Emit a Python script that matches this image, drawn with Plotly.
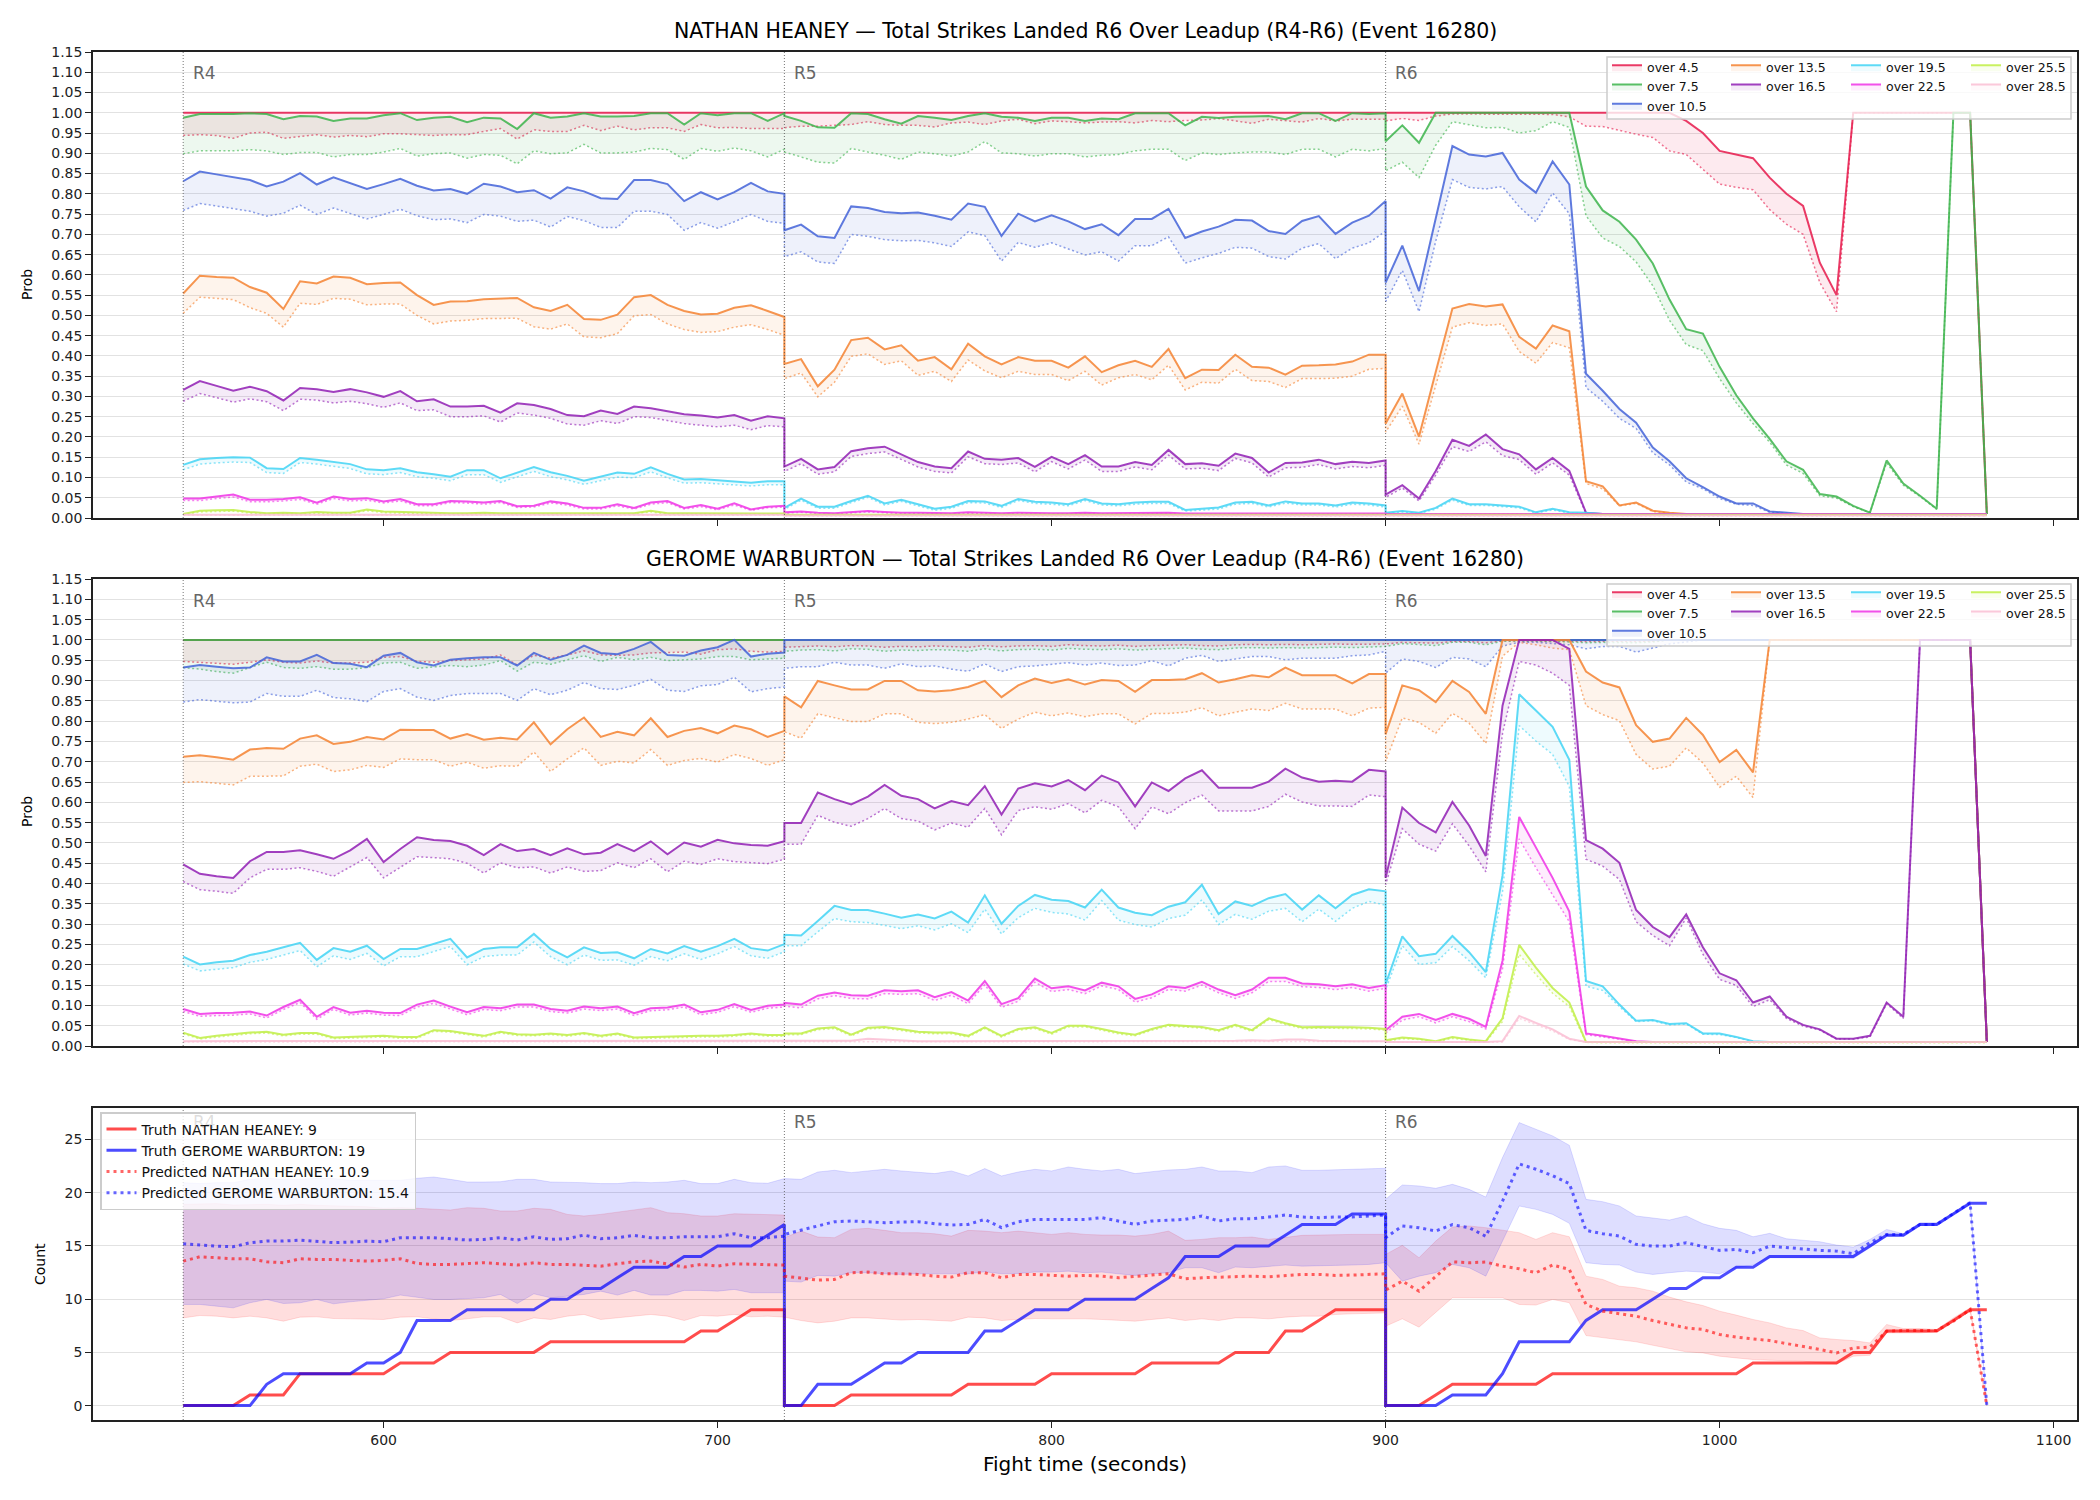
import plotly.graph_objects as go

# ---------------- time grid (5-second samples, 37 per round) ----------------
ROUND_STARTS = [540, 720, 900]
ROUND_LABELS = ["R4", "R5", "R6"]
STEP = 5
N_PER_ROUND = 37
times = [r + STEP * k for r in ROUND_STARTS for k in range(N_PER_ROUND)]

THRESHOLDS = ["4.5", "7.5", "10.5", "13.5", "16.5", "19.5", "22.5", "25.5", "28.5"]
COLORS = ["#e6194b", "#3cb44b", "#4363d8", "#f58231", "#911eb4",
          "#42d4f4", "#f032e6", "#bfef45", "#fabed4"]
LEGEND_COL = [1, 1, 1, 2, 2, 3, 3, 4, 4]

FIGHTER_A = "NATHAN HEANEY"
FIGHTER_B = "GEROME WARBURTON"
EVENT_TITLE = "Total Strikes Landed R6 Over Leadup (R4-R6) (Event 16280)"

# ---------------- NATHAN HEANEY: live (solid) and pre (dotted) probabilities ----------------
h45 = [1.0] * 37 + [1.0] * 37 + [1.0] * 18 + [0.98, 0.95, 0.906, 0.897, 0.888, 0.84, 0.80, 0.77, 0.63, 0.55] + [1.0] * 8 + [0.01]
h45d = ([0.944, 0.946, 0.944, 0.937, 0.950, 0.952, 0.937, 0.941, 0.946, 0.940, 0.944, 0.941, 0.948, 0.948, 0.946, 0.944, 0.946, 0.946, 0.954, 0.961, 0.935, 0.958, 0.954, 0.954, 0.969, 0.956, 0.967, 0.958, 0.963, 0.963, 0.954, 0.971, 0.963, 0.964, 0.961, 0.961, 0.961]
        + [0.963, 0.967, 0.967, 0.969, 0.971, 0.978, 0.971, 0.969, 0.969, 0.965, 0.975, 0.977, 0.971, 0.980, 0.984, 0.973, 0.980, 0.978, 0.975, 0.977, 0.978, 0.975, 0.981, 0.978, 0.981, 0.982, 0.986, 0.980, 0.974, 0.984, 0.980, 0.977, 0.986, 0.980, 0.984, 0.984, 0.984]
        + [0.980, 0.986, 0.981, 0.992, 0.997, 0.997, 0.996, 0.997, 0.996, 0.997, 0.996, 0.990, 0.967, 0.966, 0.956, 0.947, 0.939, 0.906, 0.897, 0.861, 0.824, 0.816, 0.810, 0.761, 0.725, 0.700, 0.581, 0.509, 1.0, 1.0, 1.0, 1.0, 1.0, 1.0, 1.0, 1.0, 0.01])
h75 = ([0.988, 0.997, 0.997, 0.997, 0.999, 0.997, 0.984, 0.992, 0.991, 0.980, 0.986, 0.986, 0.994, 0.999, 0.982, 0.988, 0.990, 0.977, 0.988, 0.986, 0.960, 0.999, 0.988, 0.991, 0.999, 0.991, 0.991, 0.992, 0.999, 0.999, 0.971, 0.999, 0.994, 0.999, 0.999, 0.980, 0.999]
       + [0.992, 0.980, 0.964, 0.963, 0.999, 0.997, 0.984, 0.973, 0.992, 0.988, 0.982, 0.992, 0.999, 0.990, 0.988, 0.980, 0.988, 0.988, 0.980, 0.986, 0.984, 0.999, 0.999, 0.999, 0.969, 0.990, 0.987, 0.990, 0.991, 0.992, 0.984, 0.999, 0.999, 0.980, 0.999, 0.997, 0.999]
       + [0.930, 0.969, 0.926, 1.0, 1.0, 1.0, 1.0, 1.0, 1.0, 1.0, 1.0, 1.0, 0.818, 0.759, 0.731, 0.687, 0.628, 0.539, 0.466, 0.455, 0.373, 0.303, 0.246, 0.195, 0.140, 0.119, 0.059, 0.053, 0.030, 0.013, 0.142, 0.085, 0.055, 0.023, 1.0, 1.0, 0.01])
h75d = ([0.899, 0.906, 0.906, 0.906, 0.909, 0.906, 0.897, 0.902, 0.902, 0.891, 0.897, 0.897, 0.903, 0.912, 0.893, 0.899, 0.901, 0.888, 0.897, 0.895, 0.874, 0.906, 0.899, 0.901, 0.922, 0.901, 0.901, 0.903, 0.912, 0.909, 0.885, 0.912, 0.905, 0.913, 0.906, 0.891, 0.910]
        + [0.903, 0.891, 0.878, 0.876, 0.912, 0.903, 0.895, 0.885, 0.903, 0.899, 0.893, 0.903, 0.929, 0.901, 0.899, 0.893, 0.899, 0.899, 0.891, 0.895, 0.897, 0.906, 0.910, 0.910, 0.882, 0.901, 0.897, 0.901, 0.903, 0.903, 0.897, 0.910, 0.910, 0.891, 0.910, 0.906, 0.912]
        + [0.857, 0.878, 0.840, 0.920, 0.978, 0.971, 0.963, 0.964, 0.950, 0.956, 0.978, 0.964, 0.746, 0.691, 0.670, 0.632, 0.573, 0.488, 0.428, 0.413, 0.344, 0.284, 0.233, 0.187, 0.131, 0.110, 0.055, 0.049, 0.028, 0.013, 0.136, 0.081, 0.053, 0.021, 1.0, 1.0, 0.01])
h105 = ([0.831, 0.855, 0.848, 0.841, 0.834, 0.818, 0.830, 0.851, 0.823, 0.841, 0.827, 0.812, 0.824, 0.837, 0.820, 0.808, 0.812, 0.800, 0.825, 0.818, 0.804, 0.809, 0.788, 0.816, 0.806, 0.789, 0.787, 0.834, 0.834, 0.824, 0.782, 0.804, 0.786, 0.804, 0.827, 0.806, 0.800]
        + [0.710, 0.724, 0.695, 0.691, 0.769, 0.765, 0.755, 0.752, 0.754, 0.746, 0.736, 0.776, 0.768, 0.696, 0.751, 0.732, 0.747, 0.732, 0.713, 0.725, 0.698, 0.738, 0.738, 0.763, 0.691, 0.707, 0.719, 0.736, 0.734, 0.708, 0.701, 0.733, 0.745, 0.701, 0.729, 0.746, 0.782]
        + [0.581, 0.672, 0.560, 0.742, 0.918, 0.897, 0.892, 0.901, 0.835, 0.803, 0.880, 0.823, 0.356, 0.314, 0.269, 0.235, 0.174, 0.140, 0.098, 0.076, 0.053, 0.036, 0.036, 0.016, 0.013] + [0.01] * 12)
h105d = ([0.759, 0.776, 0.770, 0.763, 0.757, 0.745, 0.752, 0.772, 0.749, 0.765, 0.751, 0.738, 0.749, 0.762, 0.746, 0.736, 0.738, 0.729, 0.749, 0.745, 0.732, 0.735, 0.718, 0.744, 0.734, 0.717, 0.717, 0.757, 0.757, 0.749, 0.710, 0.729, 0.715, 0.731, 0.749, 0.732, 0.727]
         + [0.645, 0.657, 0.632, 0.628, 0.700, 0.695, 0.687, 0.684, 0.685, 0.679, 0.670, 0.706, 0.697, 0.634, 0.680, 0.668, 0.679, 0.664, 0.649, 0.657, 0.634, 0.672, 0.672, 0.694, 0.629, 0.642, 0.653, 0.668, 0.666, 0.645, 0.639, 0.666, 0.677, 0.640, 0.666, 0.679, 0.708]
         + [0.534, 0.611, 0.509, 0.683, 0.835, 0.816, 0.812, 0.818, 0.768, 0.731, 0.802, 0.751, 0.322, 0.288, 0.246, 0.221, 0.161, 0.131, 0.089, 0.072, 0.048, 0.034, 0.031, 0.014, 0.012] + [0.009] * 12)
h135 = ([0.554, 0.598, 0.595, 0.593, 0.570, 0.556, 0.516, 0.584, 0.579, 0.596, 0.593, 0.577, 0.580, 0.581, 0.550, 0.526, 0.534, 0.535, 0.540, 0.542, 0.543, 0.520, 0.511, 0.526, 0.491, 0.489, 0.502, 0.545, 0.550, 0.526, 0.511, 0.502, 0.504, 0.519, 0.525, 0.511, 0.496]
        + [0.380, 0.392, 0.325, 0.366, 0.439, 0.445, 0.416, 0.426, 0.388, 0.397, 0.367, 0.430, 0.399, 0.379, 0.397, 0.388, 0.388, 0.371, 0.399, 0.360, 0.377, 0.388, 0.373, 0.417, 0.345, 0.366, 0.365, 0.403, 0.373, 0.371, 0.354, 0.376, 0.377, 0.379, 0.386, 0.403, 0.403]
        + [0.233, 0.307, 0.201, 0.360, 0.517, 0.528, 0.522, 0.527, 0.447, 0.418, 0.475, 0.461, 0.091, 0.078, 0.031, 0.038, 0.018, 0.013] + [0.01] * 19)
h135d = ([0.505, 0.545, 0.542, 0.539, 0.519, 0.505, 0.471, 0.530, 0.527, 0.542, 0.540, 0.526, 0.528, 0.528, 0.500, 0.479, 0.486, 0.488, 0.492, 0.493, 0.493, 0.472, 0.466, 0.479, 0.447, 0.445, 0.455, 0.499, 0.502, 0.479, 0.465, 0.458, 0.460, 0.471, 0.477, 0.465, 0.451]
         + [0.344, 0.358, 0.299, 0.335, 0.399, 0.405, 0.379, 0.388, 0.352, 0.362, 0.337, 0.390, 0.363, 0.346, 0.362, 0.354, 0.354, 0.339, 0.362, 0.328, 0.346, 0.354, 0.341, 0.377, 0.316, 0.335, 0.333, 0.367, 0.339, 0.337, 0.322, 0.344, 0.344, 0.345, 0.350, 0.367, 0.369]
         + [0.212, 0.276, 0.182, 0.327, 0.471, 0.482, 0.475, 0.479, 0.411, 0.382, 0.433, 0.420, 0.085, 0.072, 0.030, 0.036, 0.016, 0.012] + [0.009] * 19)
h165 = ([0.316, 0.338, 0.326, 0.314, 0.324, 0.313, 0.290, 0.321, 0.318, 0.311, 0.318, 0.310, 0.299, 0.313, 0.288, 0.293, 0.275, 0.275, 0.277, 0.260, 0.283, 0.279, 0.269, 0.254, 0.251, 0.265, 0.257, 0.275, 0.271, 0.263, 0.256, 0.253, 0.248, 0.254, 0.240, 0.251, 0.246]
        + [0.127, 0.146, 0.120, 0.126, 0.165, 0.172, 0.176, 0.157, 0.138, 0.127, 0.123, 0.164, 0.146, 0.144, 0.148, 0.126, 0.151, 0.133, 0.155, 0.127, 0.127, 0.138, 0.131, 0.168, 0.133, 0.135, 0.129, 0.159, 0.148, 0.112, 0.136, 0.137, 0.144, 0.133, 0.139, 0.136, 0.142]
        + [0.058, 0.081, 0.048, 0.116, 0.193, 0.178, 0.206, 0.170, 0.157, 0.120, 0.148, 0.116, 0.013] + [0.01] * 24)
h165d = ([0.288, 0.307, 0.297, 0.286, 0.294, 0.287, 0.265, 0.293, 0.291, 0.284, 0.288, 0.282, 0.273, 0.284, 0.265, 0.267, 0.250, 0.250, 0.252, 0.237, 0.259, 0.254, 0.246, 0.232, 0.229, 0.240, 0.233, 0.250, 0.248, 0.240, 0.233, 0.229, 0.225, 0.229, 0.218, 0.228, 0.225]
         + [0.115, 0.134, 0.108, 0.114, 0.152, 0.159, 0.163, 0.145, 0.126, 0.115, 0.111, 0.151, 0.134, 0.132, 0.136, 0.114, 0.139, 0.121, 0.143, 0.115, 0.115, 0.126, 0.119, 0.155, 0.121, 0.123, 0.117, 0.147, 0.136, 0.101, 0.124, 0.125, 0.132, 0.121, 0.127, 0.124, 0.130]
         + [0.051, 0.074, 0.042, 0.106, 0.176, 0.164, 0.188, 0.154, 0.144, 0.108, 0.136, 0.106, 0.011] + [0.009] * 24)
h195 = ([0.131, 0.145, 0.148, 0.150, 0.149, 0.123, 0.121, 0.148, 0.144, 0.138, 0.133, 0.120, 0.118, 0.123, 0.113, 0.108, 0.102, 0.118, 0.118, 0.098, 0.112, 0.126, 0.113, 0.104, 0.092, 0.102, 0.112, 0.109, 0.125, 0.109, 0.095, 0.096, 0.093, 0.091, 0.087, 0.091, 0.091]
        + [0.025, 0.048, 0.028, 0.028, 0.042, 0.055, 0.036, 0.045, 0.034, 0.023, 0.028, 0.042, 0.041, 0.030, 0.047, 0.040, 0.038, 0.034, 0.047, 0.036, 0.034, 0.038, 0.040, 0.040, 0.020, 0.023, 0.026, 0.038, 0.040, 0.031, 0.041, 0.036, 0.036, 0.031, 0.038, 0.036, 0.031]
        + [0.013, 0.017, 0.013, 0.025, 0.048, 0.034, 0.034, 0.031, 0.028, 0.014, 0.023, 0.014, 0.013] + [0.01] * 24)
h195d = ([0.119, 0.133, 0.136, 0.138, 0.137, 0.112, 0.110, 0.137, 0.133, 0.127, 0.122, 0.109, 0.107, 0.112, 0.102, 0.098, 0.092, 0.107, 0.107, 0.088, 0.101, 0.115, 0.102, 0.094, 0.083, 0.092, 0.101, 0.099, 0.114, 0.099, 0.086, 0.087, 0.084, 0.082, 0.079, 0.082, 0.082]
         + [0.021, 0.044, 0.024, 0.024, 0.038, 0.051, 0.032, 0.041, 0.030, 0.019, 0.024, 0.038, 0.037, 0.026, 0.043, 0.036, 0.034, 0.030, 0.043, 0.032, 0.030, 0.034, 0.036, 0.036, 0.017, 0.019, 0.022, 0.034, 0.036, 0.027, 0.037, 0.032, 0.032, 0.027, 0.034, 0.032, 0.027]
         + [0.011, 0.015, 0.011, 0.022, 0.044, 0.031, 0.031, 0.028, 0.025, 0.012, 0.020, 0.012, 0.011] + [0.009] * 24)
h225 = ([0.048, 0.048, 0.053, 0.058, 0.045, 0.045, 0.047, 0.051, 0.038, 0.053, 0.047, 0.049, 0.041, 0.047, 0.034, 0.034, 0.042, 0.041, 0.038, 0.042, 0.029, 0.030, 0.041, 0.036, 0.025, 0.025, 0.034, 0.025, 0.038, 0.042, 0.025, 0.032, 0.023, 0.036, 0.021, 0.028, 0.030]
        + [0.014, 0.016, 0.013, 0.012, 0.014, 0.017, 0.015, 0.013, 0.013, 0.012, 0.012, 0.014, 0.013, 0.012, 0.013, 0.012, 0.012, 0.012, 0.013, 0.012, 0.012, 0.012, 0.012, 0.013, 0.011, 0.011, 0.011, 0.012, 0.012, 0.011, 0.012, 0.012, 0.012, 0.011, 0.012, 0.012, 0.011]
        + [0.01] * 37)
h225d = ([0.043, 0.043, 0.048, 0.052, 0.040, 0.040, 0.042, 0.046, 0.034, 0.048, 0.042, 0.044, 0.037, 0.042, 0.030, 0.030, 0.038, 0.037, 0.034, 0.038, 0.026, 0.027, 0.037, 0.032, 0.022, 0.022, 0.030, 0.022, 0.034, 0.038, 0.022, 0.028, 0.020, 0.032, 0.019, 0.025, 0.027]
         + [0.012, 0.014, 0.011, 0.010, 0.012, 0.015, 0.013, 0.011, 0.011, 0.010, 0.010, 0.012, 0.011, 0.010, 0.011, 0.010, 0.010, 0.010, 0.011, 0.010, 0.010, 0.010, 0.010, 0.011, 0.009, 0.009, 0.009, 0.010, 0.010, 0.009, 0.010, 0.010, 0.010, 0.009, 0.010, 0.010, 0.009]
         + [0.009] * 37)
h255 = ([0.010, 0.018, 0.019, 0.020, 0.015, 0.012, 0.013, 0.012, 0.015, 0.013, 0.013, 0.021, 0.016, 0.015, 0.013, 0.012, 0.012, 0.012, 0.013, 0.012, 0.012, 0.012, 0.013, 0.012, 0.012, 0.012, 0.012, 0.012, 0.018, 0.012, 0.012, 0.012, 0.011, 0.012, 0.011, 0.011, 0.011]
        + [0.008] * 37 + [0.008] * 37)
h255d = ([0.008, 0.015, 0.016, 0.017, 0.012, 0.010, 0.011, 0.010, 0.012, 0.011, 0.011, 0.018, 0.013, 0.012, 0.011, 0.010, 0.010, 0.010, 0.011, 0.010, 0.010, 0.010, 0.011, 0.010, 0.010, 0.010, 0.010, 0.010, 0.015, 0.010, 0.010, 0.010, 0.009, 0.010, 0.009, 0.009, 0.009]
         + [0.007] * 37 + [0.007] * 37)
h285 = [0.008] * 37 + [0.006] * 37 + [0.006] * 37
h285d = [0.007] * 37 + [0.005] * 37 + [0.005] * 37

# ---------------- GEROME WARBURTON ----------------
w45 = [1.0] * 37 + [1.0] * 37 + [1.0] * 36 + [0.01]
w45d = ([0.947, 0.945, 0.943, 0.940, 0.945, 0.951, 0.945, 0.943, 0.948, 0.943, 0.943, 0.945, 0.957, 0.959, 0.947, 0.945, 0.949, 0.951, 0.953, 0.963, 0.938, 0.962, 0.955, 0.963, 0.973, 0.963, 0.962, 0.963, 0.968, 0.969, 0.970, 0.965, 0.976, 0.978, 0.972, 0.970, 0.972]
        + [0.982, 0.984, 0.985, 0.983, 0.986, 0.985, 0.982, 0.984, 0.983, 0.985, 0.984, 0.982, 0.986, 0.983, 0.985, 0.986, 0.984, 0.988, 0.986, 0.985, 0.987, 0.984, 0.986, 0.987, 0.988, 0.986, 0.985, 0.988, 0.989, 0.988, 0.989, 0.988, 0.989, 0.990, 0.989, 0.990, 0.990]
        + [0.990, 0.994, 0.993, 0.992, 0.996, 0.996, 0.993, 0.998, 0.998, 0.998, 0.998, 0.997, 0.996, 0.997, 0.997, 0.996, 0.997] + [1.0] * 19 + [0.01])
w75 = [1.0] * 37 + [1.0] * 37 + [1.0] * 36 + [0.01]
w75d = ([0.932, 0.928, 0.922, 0.918, 0.932, 0.945, 0.932, 0.930, 0.934, 0.928, 0.928, 0.932, 0.943, 0.945, 0.930, 0.934, 0.937, 0.934, 0.938, 0.949, 0.923, 0.945, 0.940, 0.951, 0.961, 0.947, 0.957, 0.951, 0.957, 0.949, 0.951, 0.953, 0.959, 0.959, 0.951, 0.953, 0.955]
        + [0.972, 0.975, 0.976, 0.973, 0.978, 0.977, 0.972, 0.975, 0.974, 0.976, 0.975, 0.972, 0.978, 0.973, 0.976, 0.977, 0.975, 0.979, 0.977, 0.976, 0.978, 0.975, 0.977, 0.978, 0.980, 0.977, 0.976, 0.980, 0.981, 0.980, 0.981, 0.980, 0.981, 0.982, 0.981, 0.982, 0.983]
        + [0.984, 0.991, 0.988, 0.986, 0.994, 0.994, 0.988, 0.997, 0.997, 0.997, 0.996, 0.995, 0.993, 0.994, 0.994, 0.993, 0.995] + [1.0] * 19 + [0.01])
w105 = ([0.932, 0.938, 0.934, 0.930, 0.932, 0.957, 0.947, 0.947, 0.963, 0.943, 0.941, 0.933, 0.961, 0.968, 0.945, 0.937, 0.951, 0.955, 0.957, 0.957, 0.937, 0.968, 0.951, 0.963, 0.986, 0.968, 0.965, 0.978, 0.995, 0.963, 0.961, 0.974, 0.982, 1.0, 0.959, 0.966, 0.969]
        + [1.0] * 37 + [1.0] * 36 + [0.01])
w105d = ([0.847, 0.853, 0.849, 0.845, 0.847, 0.868, 0.861, 0.861, 0.876, 0.858, 0.855, 0.848, 0.873, 0.880, 0.859, 0.851, 0.863, 0.868, 0.868, 0.868, 0.851, 0.880, 0.865, 0.876, 0.895, 0.880, 0.878, 0.888, 0.903, 0.876, 0.873, 0.887, 0.890, 0.908, 0.872, 0.880, 0.884]
         + [0.930, 0.934, 0.934, 0.945, 0.938, 0.938, 0.930, 0.941, 0.934, 0.936, 0.928, 0.923, 0.941, 0.922, 0.934, 0.936, 0.940, 0.944, 0.938, 0.943, 0.937, 0.938, 0.949, 0.936, 0.955, 0.962, 0.947, 0.953, 0.959, 0.959, 0.951, 0.955, 0.955, 0.955, 0.961, 0.963, 0.972]
         + [0.918, 0.953, 0.947, 0.932, 0.957, 0.953, 0.934, 0.985, 0.994, 0.994, 0.991, 0.988, 0.978, 0.984, 0.984, 0.970, 0.980, 0.990, 0.995] + [1.0] * 17 + [0.01])
w135 = ([0.712, 0.716, 0.711, 0.705, 0.730, 0.734, 0.732, 0.757, 0.765, 0.744, 0.749, 0.761, 0.755, 0.779, 0.778, 0.778, 0.757, 0.768, 0.754, 0.759, 0.755, 0.797, 0.743, 0.780, 0.809, 0.761, 0.774, 0.765, 0.807, 0.761, 0.776, 0.783, 0.770, 0.789, 0.780, 0.761, 0.776]
        + [0.861, 0.834, 0.899, 0.888, 0.878, 0.878, 0.899, 0.899, 0.876, 0.873, 0.876, 0.884, 0.899, 0.859, 0.888, 0.905, 0.894, 0.903, 0.890, 0.901, 0.899, 0.872, 0.901, 0.901, 0.903, 0.918, 0.895, 0.903, 0.913, 0.908, 0.932, 0.913, 0.913, 0.913, 0.893, 0.916, 0.916]
        + [0.768, 0.888, 0.876, 0.847, 0.899, 0.872, 0.818, 1.0, 1.0, 1.0, 1.0, 1.0, 0.922, 0.895, 0.883, 0.790, 0.749, 0.757, 0.808, 0.766, 0.699, 0.729, 0.674] + [1.0] * 13 + [0.01])
w135d = ([0.649, 0.651, 0.647, 0.643, 0.664, 0.665, 0.665, 0.689, 0.694, 0.676, 0.680, 0.691, 0.686, 0.707, 0.705, 0.705, 0.689, 0.699, 0.684, 0.690, 0.689, 0.724, 0.676, 0.707, 0.734, 0.691, 0.701, 0.697, 0.730, 0.691, 0.703, 0.708, 0.699, 0.718, 0.708, 0.691, 0.705]
         + [0.774, 0.758, 0.818, 0.808, 0.799, 0.799, 0.818, 0.818, 0.797, 0.794, 0.797, 0.805, 0.816, 0.782, 0.805, 0.822, 0.813, 0.820, 0.811, 0.818, 0.818, 0.793, 0.819, 0.819, 0.822, 0.833, 0.813, 0.822, 0.830, 0.826, 0.844, 0.830, 0.830, 0.830, 0.813, 0.832, 0.834]
         + [0.701, 0.808, 0.797, 0.770, 0.819, 0.795, 0.745, 0.960, 0.994, 0.988, 0.980, 0.976, 0.838, 0.816, 0.801, 0.718, 0.682, 0.689, 0.734, 0.697, 0.637, 0.664, 0.612] + [1.0] * 13 + [0.01])
w165 = ([0.447, 0.424, 0.418, 0.414, 0.455, 0.478, 0.478, 0.482, 0.472, 0.461, 0.482, 0.510, 0.453, 0.485, 0.514, 0.507, 0.505, 0.493, 0.470, 0.497, 0.480, 0.485, 0.470, 0.487, 0.472, 0.476, 0.497, 0.480, 0.504, 0.472, 0.501, 0.491, 0.508, 0.499, 0.495, 0.493, 0.504]
        + [0.549, 0.549, 0.624, 0.608, 0.595, 0.614, 0.643, 0.616, 0.608, 0.585, 0.603, 0.593, 0.640, 0.570, 0.634, 0.647, 0.639, 0.655, 0.630, 0.666, 0.649, 0.590, 0.649, 0.628, 0.659, 0.679, 0.636, 0.636, 0.636, 0.651, 0.683, 0.661, 0.651, 0.653, 0.651, 0.680, 0.676]
        + [0.414, 0.587, 0.549, 0.526, 0.601, 0.543, 0.468, 0.838, 1.0, 1.0, 1.0, 0.978, 0.507, 0.486, 0.451, 0.335, 0.293, 0.268, 0.324, 0.243, 0.179, 0.162, 0.107, 0.122, 0.072, 0.052, 0.041, 0.018, 0.018, 0.025, 0.107, 0.072, 1.0, 1.0, 1.0, 1.0, 0.01])
w165d = ([0.405, 0.385, 0.381, 0.376, 0.414, 0.435, 0.435, 0.439, 0.430, 0.418, 0.441, 0.464, 0.414, 0.440, 0.466, 0.464, 0.461, 0.450, 0.426, 0.451, 0.439, 0.441, 0.426, 0.441, 0.430, 0.432, 0.451, 0.439, 0.461, 0.429, 0.455, 0.447, 0.461, 0.454, 0.451, 0.449, 0.460]
         + [0.497, 0.497, 0.568, 0.551, 0.541, 0.560, 0.585, 0.560, 0.554, 0.532, 0.549, 0.539, 0.585, 0.520, 0.580, 0.589, 0.583, 0.597, 0.574, 0.605, 0.589, 0.535, 0.589, 0.572, 0.599, 0.618, 0.579, 0.579, 0.579, 0.590, 0.620, 0.601, 0.591, 0.591, 0.590, 0.618, 0.614]
         + [0.397, 0.535, 0.497, 0.480, 0.547, 0.493, 0.429, 0.770, 0.947, 0.938, 0.918, 0.888, 0.460, 0.443, 0.410, 0.306, 0.272, 0.247, 0.315, 0.226, 0.164, 0.149, 0.097, 0.114, 0.068, 0.049, 0.039, 0.017, 0.017, 0.022, 0.104, 0.068, 1.0, 1.0, 1.0, 1.0, 0.01])
w195 = ([0.220, 0.201, 0.206, 0.210, 0.224, 0.232, 0.243, 0.254, 0.212, 0.241, 0.232, 0.247, 0.214, 0.239, 0.239, 0.251, 0.264, 0.218, 0.239, 0.243, 0.243, 0.276, 0.239, 0.218, 0.243, 0.229, 0.231, 0.216, 0.239, 0.228, 0.246, 0.232, 0.246, 0.264, 0.241, 0.235, 0.251]
        + [0.274, 0.272, 0.308, 0.345, 0.335, 0.335, 0.326, 0.316, 0.324, 0.314, 0.331, 0.304, 0.371, 0.301, 0.345, 0.372, 0.360, 0.357, 0.341, 0.385, 0.341, 0.328, 0.322, 0.343, 0.354, 0.397, 0.325, 0.356, 0.345, 0.364, 0.374, 0.336, 0.371, 0.339, 0.372, 0.386, 0.381]
        + [0.152, 0.270, 0.221, 0.227, 0.271, 0.231, 0.182, 0.420, 0.866, 0.826, 0.786, 0.705, 0.160, 0.147, 0.102, 0.062, 0.064, 0.054, 0.056, 0.031, 0.031, 0.022, 0.012] + [0.01] * 14)
w195d = ([0.202, 0.185, 0.189, 0.193, 0.206, 0.213, 0.224, 0.235, 0.195, 0.222, 0.213, 0.228, 0.197, 0.220, 0.220, 0.232, 0.245, 0.200, 0.220, 0.224, 0.224, 0.256, 0.220, 0.200, 0.224, 0.211, 0.212, 0.199, 0.220, 0.210, 0.227, 0.213, 0.227, 0.245, 0.222, 0.216, 0.232]
         + [0.247, 0.247, 0.281, 0.314, 0.306, 0.304, 0.297, 0.289, 0.296, 0.286, 0.301, 0.279, 0.337, 0.276, 0.316, 0.339, 0.329, 0.325, 0.310, 0.358, 0.310, 0.299, 0.293, 0.314, 0.322, 0.360, 0.299, 0.324, 0.312, 0.332, 0.339, 0.306, 0.337, 0.307, 0.339, 0.356, 0.347]
         + [0.139, 0.247, 0.201, 0.205, 0.245, 0.210, 0.168, 0.380, 0.789, 0.751, 0.718, 0.639, 0.147, 0.137, 0.097, 0.060, 0.062, 0.052, 0.054, 0.029, 0.028, 0.021, 0.011] + [0.009] * 14)
w225 = ([0.091, 0.079, 0.081, 0.082, 0.085, 0.075, 0.096, 0.114, 0.072, 0.096, 0.082, 0.087, 0.082, 0.081, 0.102, 0.112, 0.097, 0.083, 0.096, 0.093, 0.102, 0.102, 0.091, 0.087, 0.097, 0.093, 0.097, 0.081, 0.093, 0.095, 0.102, 0.083, 0.089, 0.103, 0.089, 0.099, 0.102]
        + [0.106, 0.102, 0.124, 0.132, 0.125, 0.124, 0.137, 0.135, 0.137, 0.120, 0.133, 0.112, 0.160, 0.103, 0.118, 0.166, 0.142, 0.147, 0.137, 0.156, 0.147, 0.116, 0.127, 0.147, 0.143, 0.158, 0.139, 0.125, 0.139, 0.168, 0.168, 0.154, 0.152, 0.147, 0.152, 0.143, 0.150]
        + [0.039, 0.072, 0.079, 0.064, 0.079, 0.067, 0.047, 0.210, 0.564, 0.489, 0.414, 0.331, 0.031, 0.025, 0.018, 0.012] + [0.01] * 21)
w225d = ([0.085, 0.073, 0.075, 0.076, 0.079, 0.069, 0.090, 0.107, 0.066, 0.090, 0.076, 0.081, 0.076, 0.075, 0.096, 0.105, 0.091, 0.077, 0.090, 0.087, 0.096, 0.096, 0.085, 0.081, 0.091, 0.087, 0.091, 0.075, 0.087, 0.089, 0.096, 0.077, 0.083, 0.097, 0.083, 0.093, 0.096]
         + [0.098, 0.094, 0.116, 0.124, 0.117, 0.116, 0.129, 0.127, 0.129, 0.112, 0.125, 0.104, 0.151, 0.095, 0.110, 0.157, 0.134, 0.139, 0.129, 0.148, 0.139, 0.108, 0.119, 0.139, 0.135, 0.150, 0.131, 0.117, 0.131, 0.159, 0.159, 0.146, 0.144, 0.139, 0.144, 0.135, 0.142]
         + [0.032, 0.064, 0.072, 0.057, 0.072, 0.060, 0.042, 0.190, 0.510, 0.439, 0.372, 0.306, 0.028, 0.022, 0.016, 0.011] + [0.009] * 21)
w255 = ([0.033, 0.020, 0.025, 0.029, 0.033, 0.035, 0.028, 0.032, 0.032, 0.021, 0.022, 0.024, 0.025, 0.022, 0.022, 0.039, 0.037, 0.031, 0.025, 0.035, 0.029, 0.028, 0.031, 0.027, 0.032, 0.025, 0.031, 0.021, 0.022, 0.024, 0.025, 0.025, 0.025, 0.027, 0.031, 0.027, 0.027]
        + [0.031, 0.031, 0.043, 0.046, 0.028, 0.045, 0.047, 0.041, 0.035, 0.033, 0.033, 0.025, 0.046, 0.025, 0.042, 0.046, 0.032, 0.050, 0.050, 0.042, 0.033, 0.028, 0.042, 0.052, 0.050, 0.047, 0.039, 0.052, 0.039, 0.068, 0.056, 0.046, 0.047, 0.047, 0.046, 0.045, 0.042]
        + [0.014, 0.021, 0.018, 0.012, 0.022, 0.016, 0.012, 0.068, 0.249, 0.193, 0.143, 0.107, 0.010] + [0.01] * 24)
w255d = ([0.030, 0.017, 0.022, 0.026, 0.030, 0.032, 0.025, 0.029, 0.029, 0.018, 0.019, 0.021, 0.022, 0.019, 0.019, 0.036, 0.034, 0.028, 0.022, 0.032, 0.026, 0.025, 0.028, 0.024, 0.029, 0.022, 0.028, 0.018, 0.019, 0.021, 0.022, 0.022, 0.022, 0.024, 0.028, 0.024, 0.024]
         + [0.028, 0.028, 0.040, 0.043, 0.025, 0.042, 0.044, 0.038, 0.032, 0.030, 0.030, 0.022, 0.043, 0.022, 0.039, 0.043, 0.029, 0.047, 0.047, 0.039, 0.030, 0.025, 0.039, 0.049, 0.047, 0.044, 0.036, 0.049, 0.036, 0.065, 0.053, 0.043, 0.044, 0.044, 0.043, 0.042, 0.039]
         + [0.012, 0.018, 0.016, 0.010, 0.019, 0.014, 0.010, 0.060, 0.226, 0.176, 0.130, 0.097, 0.009] + [0.008] * 24)
w285 = ([0.012] * 37
        + [0.013, 0.013, 0.012, 0.012, 0.013, 0.018, 0.016, 0.013, 0.012, 0.012, 0.012, 0.012, 0.013, 0.012, 0.012, 0.013, 0.013, 0.012, 0.012, 0.013, 0.012, 0.012, 0.012, 0.013, 0.013, 0.012, 0.012, 0.013, 0.014, 0.013, 0.016, 0.016, 0.013, 0.012, 0.012, 0.012, 0.012]
        + [0.010, 0.010, 0.010, 0.010, 0.010, 0.010, 0.010, 0.012, 0.074, 0.057, 0.041, 0.018, 0.010] + [0.01] * 24)
w285d = [0.010] * 37 + [0.011] * 37 + [0.009] * 8 + [0.068, 0.052, 0.037, 0.016] + [0.009] * 25

# ---------------- counts panel ----------------
truth_a = ([0, 0, 0, 0, 1, 1, 1, 3, 3, 3, 3, 3, 3, 4, 4, 4, 5, 5, 5, 5, 5, 5, 6, 6, 6, 6, 6, 6, 6, 6, 6, 7, 7, 8, 9, 9, 9]
           + [0, 0, 0, 0, 1, 1, 1, 1, 1, 1, 1, 2, 2, 2, 2, 2, 3, 3, 3, 3, 3, 3, 4, 4, 4, 4, 4, 5, 5, 5, 7, 7, 8, 9, 9, 9, 9]
           + [0, 0, 0, 1, 2, 2, 2, 2, 2, 2, 3, 3, 3, 3, 3, 3, 3, 3, 3, 3, 3, 3, 4, 4, 4, 4, 4, 4, 5, 5, 7, 7, 7, 7, 8, 9, 9])
truth_b = ([0, 0, 0, 0, 0, 2, 3, 3, 3, 3, 3, 4, 4, 5, 8, 8, 8, 9, 9, 9, 9, 9, 10, 10, 11, 11, 12, 13, 13, 13, 14, 14, 15, 15, 15, 16, 17]
           + [0, 0, 2, 2, 2, 3, 4, 4, 5, 5, 5, 5, 7, 7, 8, 9, 9, 9, 10, 10, 10, 10, 11, 12, 14, 14, 14, 15, 15, 15, 16, 17, 17, 17, 18, 18, 18]
           + [0, 0, 0, 0, 1, 1, 1, 3, 6, 6, 6, 6, 8, 9, 9, 9, 10, 11, 11, 12, 12, 13, 13, 14, 14, 14, 14, 14, 14, 15, 16, 16, 17, 17, 18, 19, 19])
pred_a = ([13.57, 13.98, 13.89, 13.79, 13.79, 13.51, 13.42, 13.79, 13.73, 13.73, 13.64, 13.57, 13.64, 13.79, 13.35, 13.26, 13.26, 13.32, 13.42, 13.32, 13.20, 13.42, 13.26, 13.26, 13.20, 13.10, 13.32, 13.51, 13.57, 13.26, 13.01, 13.26, 13.10, 13.32, 13.26, 13.26, 13.20]
          + [12.16, 12.01, 11.79, 11.85, 12.48, 12.54, 12.38, 12.38, 12.32, 12.16, 12.07, 12.48, 12.48, 12.01, 12.32, 12.32, 12.23, 12.16, 12.23, 12.16, 12.01, 12.10, 12.26, 12.38, 11.91, 12.01, 12.07, 12.16, 12.16, 12.10, 12.23, 12.32, 12.32, 12.23, 12.26, 12.32, 12.38]
          + [10.85, 11.69, 10.75, 12.16, 13.50, 13.42, 13.48, 13.10, 12.85, 12.48, 13.20, 12.79, 9.50, 8.87, 8.65, 8.40, 7.99, 7.62, 7.30, 7.15, 6.68, 6.43, 6.27, 6.11, 5.83, 5.58, 5.27, 4.95, 5.42, 5.49, 6.99, 7.05, 7.05, 7.05, 7.93, 9.03, 0.0])
pred_b = ([15.20, 15.08, 14.98, 14.92, 15.30, 15.45, 15.45, 15.55, 15.39, 15.30, 15.36, 15.45, 15.39, 15.77, 15.77, 15.77, 15.67, 15.55, 15.61, 15.77, 15.55, 15.86, 15.61, 15.67, 16.02, 15.67, 15.77, 15.99, 15.77, 15.77, 15.86, 15.86, 15.86, 16.14, 15.77, 15.77, 15.92]
          + [16.08, 16.46, 16.87, 17.27, 17.34, 17.24, 17.18, 17.24, 17.27, 17.08, 16.96, 17.02, 17.49, 16.71, 17.27, 17.49, 17.49, 17.49, 17.49, 17.65, 17.34, 17.02, 17.34, 17.40, 17.49, 17.81, 17.34, 17.55, 17.55, 17.71, 17.90, 17.71, 17.65, 17.71, 17.71, 17.81, 17.90]
          + [15.77, 16.87, 16.71, 16.40, 17.00, 16.71, 15.90, 19.20, 22.70, 22.20, 21.60, 20.85, 16.46, 16.14, 15.92, 15.14, 14.98, 14.98, 15.30, 14.92, 14.58, 14.67, 14.36, 14.98, 14.83, 14.67, 14.58, 14.51, 14.26, 15.30, 16.08, 16.08, 17.02, 17.02, 18.06, 19.06, 0.0])
hi_a = ([18.90, 18.97, 18.97, 18.84, 18.90, 18.90, 18.81, 18.90, 18.81, 18.75, 18.75, 18.68, 18.53, 18.59, 18.53, 18.43, 18.37, 18.59, 18.53, 18.28, 18.28, 18.53, 18.43, 17.96, 17.81, 17.96, 18.18, 18.37, 18.59, 18.12, 18.02, 17.81, 17.81, 18.02, 17.96, 17.96, 17.90]
        + [15.77, 16.39, 15.83, 15.77, 16.55, 16.65, 16.46, 16.24, 16.24, 16.14, 15.92, 16.46, 16.39, 16.24, 16.39, 16.24, 16.08, 16.24, 16.08, 16.02, 16.02, 15.92, 16.08, 16.39, 15.52, 15.61, 15.77, 15.77, 15.83, 15.61, 15.77, 15.99, 16.02, 16.08, 16.08, 16.08, 16.08]
        + [14.20, 15.05, 13.89, 15.45, 16.77, 16.87, 16.71, 16.46, 16.24, 15.61, 16.24, 15.86, 12.16, 11.85, 11.22, 11.07, 10.75, 10.19, 9.75, 9.40, 8.87, 8.50, 8.09, 7.77, 7.30, 7.05, 6.36, 6.21, 6.11, 5.89, 7.62, 7.24, 7.24, 7.15, 8.24, 9.18, 0.0])
lo_a = ([8.24, 8.46, 8.40, 8.24, 8.40, 8.24, 7.93, 8.31, 8.34, 8.18, 8.15, 8.15, 8.09, 8.31, 8.34, 8.15, 7.99, 8.15, 8.34, 8.34, 7.77, 8.24, 8.09, 8.40, 8.56, 8.09, 8.24, 8.46, 8.56, 8.40, 7.99, 8.46, 8.40, 8.56, 8.34, 8.40, 8.31]
        + [8.31, 7.99, 7.77, 7.93, 8.24, 8.24, 8.15, 8.03, 8.09, 7.99, 7.93, 8.31, 8.24, 7.99, 8.09, 8.18, 8.15, 8.18, 8.15, 8.09, 7.99, 7.93, 8.09, 8.24, 7.99, 8.15, 7.99, 8.24, 8.24, 8.15, 8.31, 8.40, 8.40, 8.56, 8.62, 8.65, 8.71]
        + [7.46, 8.15, 7.37, 8.71, 10.13, 10.13, 10.13, 10.13, 9.50, 9.44, 9.97, 9.66, 6.58, 6.36, 6.21, 5.99, 5.67, 5.36, 5.05, 4.95, 4.64, 4.48, 4.33, 4.26, 4.23, 4.17, 4.01, 3.92, 4.64, 4.73, 6.83, 6.83, 6.83, 6.93, 7.93, 8.87, 0.0])
hi_b = ([20.94, 20.85, 20.94, 20.94, 21.25, 21.35, 21.25, 21.25, 21.35, 21.32, 21.16, 21.16, 21.10, 21.16, 21.35, 21.47, 21.25, 21.00, 21.00, 21.03, 21.25, 21.25, 21.00, 21.00, 20.94, 20.85, 20.85, 21.00, 20.94, 21.00, 21.16, 20.85, 20.85, 21.25, 20.94, 20.88, 21.25]
        + [21.32, 21.25, 21.94, 22.10, 21.88, 22.04, 22.19, 22.04, 21.94, 21.79, 22.04, 21.57, 22.26, 21.57, 21.94, 22.19, 22.04, 22.41, 22.19, 22.04, 22.19, 21.79, 21.97, 22.13, 22.19, 22.41, 22.04, 22.04, 21.88, 22.41, 22.51, 22.10, 22.10, 22.13, 22.19, 22.26, 22.29]
        + [19.37, 20.72, 20.63, 20.41, 20.78, 20.31, 19.59, 23.29, 26.58, 25.96, 25.33, 24.45, 19.37, 19.15, 18.75, 17.81, 17.59, 17.43, 17.81, 17.08, 16.65, 16.46, 15.86, 16.18, 15.67, 15.52, 15.39, 15.08, 14.89, 15.61, 16.55, 16.14, 17.18, 17.18, 18.12, 19.22, 0.0])
lo_b = ([9.50, 9.50, 9.34, 9.18, 9.66, 9.97, 9.59, 9.66, 9.97, 9.56, 9.75, 9.87, 10.03, 10.38, 10.19, 9.97, 9.97, 10.03, 10.13, 10.44, 9.59, 10.50, 10.13, 10.28, 10.44, 10.75, 10.38, 10.82, 10.38, 10.38, 10.82, 10.82, 10.75, 10.91, 10.60, 10.60, 10.60]
        + [11.69, 11.60, 12.23, 12.16, 12.48, 12.48, 12.38, 12.32, 12.38, 12.38, 12.32, 12.38, 12.57, 12.38, 12.41, 12.54, 12.54, 12.63, 12.48, 12.54, 12.38, 12.23, 12.38, 12.48, 12.95, 12.95, 12.48, 13.01, 12.95, 13.04, 13.20, 13.10, 13.10, 13.17, 13.20, 13.26, 13.42]
        + [13.42, 11.69, 12.16, 12.48, 13.26, 12.95, 12.16, 15.45, 18.75, 18.43, 17.96, 17.12, 13.42, 13.26, 13.20, 12.54, 12.32, 12.48, 12.63, 12.54, 12.38, 12.95, 13.20, 13.89, 13.89, 13.89, 13.89, 13.89, 13.82, 14.83, 15.92, 15.92, 16.93, 16.93, 17.96, 18.90, 0.0])

FINAL_TRUTH_A = 9
FINAL_TRUTH_B = 19
FINAL_PRED_A = 10.9
FINAL_PRED_B = 15.4

H_SOLID = [h45, h75, h105, h135, h165, h195, h225, h255, h285]
H_DOT = [h45d, h75d, h105d, h135d, h165d, h195d, h225d, h255d, h285d]
W_SOLID = [w45, w75, w105, w135, w165, w195, w225, w255, w285]
W_DOT = [w45d, w75d, w105d, w135d, w165d, w195d, w225d, w255d, w285d]

_all = {f"h{i}": s for i, s in enumerate(H_SOLID)}
_all.update({f"hd{i}": s for i, s in enumerate(H_DOT)})
_all.update({f"w{i}": s for i, s in enumerate(W_SOLID)})
_all.update({f"wd{i}": s for i, s in enumerate(W_DOT)})
_all.update(dict(truth_a=truth_a, truth_b=truth_b, pred_a=pred_a, pred_b=pred_b,
                 hi_a=hi_a, lo_a=lo_a, hi_b=hi_b, lo_b=lo_b))
_bad = [(k, len(v)) for k, v in _all.items() if len(v) != len(times)]
if _bad:
    raise ValueError(f"length mismatch: {_bad}")

# ---------------- figure ----------------
FONT = "DejaVu Sans"
W_PX, H_PX = 2100, 1500
ML, MR, MT, MB = 93, 23, 52, 80
PW, PH = W_PX - ML - MR, H_PX - MT - MB


def px_x(px):
    return (px - ML) / PW


def px_y(py):
    return 1 - (py - MT) / PH


def rgba(hexc, a):
    r, g, b = int(hexc[1:3], 16), int(hexc[3:5], 16), int(hexc[5:7], 16)
    return f"rgba({r},{g},{b},{a})"


fig = go.Figure()

panels = [("x", "y", H_SOLID, H_DOT, 0), ("x2", "y2", W_SOLID, W_DOT, 4)]
for xa, ya, solids, dots, legoff in panels:
    for i, thr in enumerate(THRESHOLDS):
        c = COLORS[i]
        leg = "legend" if (LEGEND_COL[i] + legoff) == 1 else f"legend{LEGEND_COL[i] + legoff}"
        fig.add_trace(go.Scatter(
            x=times, y=dots[i], xaxis=xa, yaxis=ya, mode="lines",
            line=dict(color=rgba(c, 0.6), width=1.5, dash="2px,2.5px"),
            showlegend=False, hoverinfo="skip", legend=leg))
        fig.add_trace(go.Scatter(
            x=times, y=solids[i], xaxis=xa, yaxis=ya, mode="lines",
            line=dict(color=rgba(c, 0.85), width=2),
            fill="tonexty", fillcolor=rgba(c, 0.09),
            name=f"over {thr}", legend=leg))

# bottom: bands
RED, BLUE = "#ff0000", "#0000ff"
fig.add_trace(go.Scatter(x=times, y=lo_a, xaxis="x3", yaxis="y3", mode="lines",
                         line=dict(color=rgba(RED, 0.12), width=1), showlegend=False, legend="legend9"))
fig.add_trace(go.Scatter(x=times, y=hi_a, xaxis="x3", yaxis="y3", mode="lines",
                         line=dict(color=rgba(RED, 0.12), width=1), fill="tonexty",
                         fillcolor=rgba(RED, 0.13), showlegend=False, legend="legend9"))
fig.add_trace(go.Scatter(x=times, y=lo_b, xaxis="x3", yaxis="y3", mode="lines",
                         line=dict(color=rgba(BLUE, 0.12), width=1), showlegend=False, legend="legend9"))
fig.add_trace(go.Scatter(x=times, y=hi_b, xaxis="x3", yaxis="y3", mode="lines",
                         line=dict(color=rgba(BLUE, 0.12), width=1), fill="tonexty",
                         fillcolor=rgba(BLUE, 0.13), showlegend=False, legend="legend9"))
fig.add_trace(go.Scatter(x=times, y=truth_a, xaxis="x3", yaxis="y3", mode="lines",
                         line=dict(color=rgba(RED, 0.7), width=3),
                         name=f"Truth {FIGHTER_A}: {FINAL_TRUTH_A}", legend="legend9"))
fig.add_trace(go.Scatter(x=times, y=truth_b, xaxis="x3", yaxis="y3", mode="lines",
                         line=dict(color=rgba(BLUE, 0.7), width=3),
                         name=f"Truth {FIGHTER_B}: {FINAL_TRUTH_B}", legend="legend9"))
fig.add_trace(go.Scatter(x=times, y=pred_a, xaxis="x3", yaxis="y3", mode="lines",
                         line=dict(color=rgba(RED, 0.6), width=3, dash="3px,4px"),
                         name=f"Predicted {FIGHTER_A}: {FINAL_PRED_A}", legend="legend9"))
fig.add_trace(go.Scatter(x=times, y=pred_b, xaxis="x3", yaxis="y3", mode="lines",
                         line=dict(color=rgba(BLUE, 0.6), width=3, dash="3px,4px"),
                         name=f"Predicted {FIGHTER_B}: {FINAL_PRED_B}", legend="legend9"))

# ---------------- axes ----------------
XR = [513, 1107]
XT = [600, 700, 800, 900, 1000, 1100]
tickfont = dict(family=FONT, size=14, color="#222")
common_x = dict(range=XR, tickvals=XT, ticks="outside", ticklen=6, tickwidth=1.3, tickcolor="#222",
                showline=True, linecolor="#222", linewidth=1.6, mirror=True, showgrid=False,
                zeroline=False, automargin=False, tickfont=tickfont)
common_y = dict(ticks="outside", ticklen=6, tickwidth=1.3, tickcolor="#222", showline=True,
                linecolor="#222", linewidth=1.6, mirror=True, showgrid=True, gridcolor="#e2e2e2",
                gridwidth=1, zeroline=False, automargin=False, tickfont=tickfont)

d1 = [px_y(518), px_y(52)]
d2 = [px_y(1046), px_y(579)]
d3 = [px_y(1420), px_y(1108)]

fig.update_layout(
    width=W_PX, height=H_PX,
    margin=dict(l=ML, r=MR, t=MT, b=MB, autoexpand=False),
    paper_bgcolor="white", plot_bgcolor="white",
    font=dict(family=FONT, color="#111"),
    xaxis=dict(common_x, domain=[0, 1], anchor="y", showticklabels=False),
    yaxis=dict(common_y, domain=d1, anchor="x", range=[0, 1.15], tick0=0, dtick=0.05, tickformat=".2f"),
    xaxis2=dict(common_x, domain=[0, 1], anchor="y2", showticklabels=False),
    yaxis2=dict(common_y, domain=d2, anchor="x2", range=[0, 1.15], tick0=0, dtick=0.05, tickformat=".2f"),
    xaxis3=dict(common_x, domain=[0, 1], anchor="y3", showticklabels=True),
    yaxis3=dict(common_y, domain=d3, anchor="x3", range=[-1.35, 27.95], tickvals=[0, 5, 10, 15, 20, 25]),
    showlegend=True,
)

# legends: four columns per probability panel, one for counts panel
col_left_px = [1607, 1726, 1846, 1966]
leg_font = dict(family=FONT, size=12.5, color="#111")
for p, top_px in enumerate([52.5, 579.5]):
    for c in range(4):
        n = p * 4 + c + 1
        key = "legend" if n == 1 else f"legend{n}"
        fig.update_layout({key: dict(x=px_x(col_left_px[c]), y=px_y(top_px), xanchor="left", yanchor="top",
                                     bgcolor="rgba(0,0,0,0)", borderwidth=0, font=leg_font,
                                     tracegroupgap=0, orientation="v", traceorder="normal")})
fig.update_layout(legend9=dict(x=px_x(100), y=px_y(1112), xanchor="left", yanchor="top",
                               bgcolor="rgba(255,255,255,0.8)", bordercolor="#cccccc", borderwidth=1.5,
                               font=dict(family=FONT, size=14, color="#111"), tracegroupgap=0,
                               traceorder="normal"))

shapes = []
for top_px, bot_px in [(57, 119), (584, 646)]:
    shapes.append(dict(type="rect", xref="paper", yref="paper",
                       x0=px_x(1607), x1=px_x(2071), y0=px_y(bot_px), y1=px_y(top_px),
                       line=dict(color="#cccccc", width=1.5), fillcolor="rgba(255,255,255,0.8)",
                       layer="above"))
for xa, ya in [("x", "y"), ("x2", "y2"), ("x3", "y3")]:
    for rs in ROUND_STARTS:
        shapes.append(dict(type="line", xref=xa, yref=f"{ya} domain", x0=rs, x1=rs, y0=0, y1=1,
                           line=dict(color="rgba(70,70,70,0.75)", width=1, dash="1px,2px"),
                           layer="above"))
fig.update_layout(shapes=shapes)

ann = []
ann.append(dict(text=f"{FIGHTER_A} — {EVENT_TITLE}", x=0.5, y=px_y(31), xref="paper", yref="paper",
                showarrow=False, xanchor="center", yanchor="middle",
                font=dict(family=FONT, size=20.5, color="#000")))
ann.append(dict(text=f"{FIGHTER_B} — {EVENT_TITLE}", x=0.5, y=px_y(558.5), xref="paper", yref="paper",
                showarrow=False, xanchor="center", yanchor="middle",
                font=dict(family=FONT, size=20.5, color="#000")))
for xa, ya, yv in [("x", "y", 1.097), ("x2", "y2", 1.097)]:
    for rs, lab in zip(ROUND_STARTS, ROUND_LABELS):
        ann.append(dict(text=lab, x=rs + 2.2, y=yv, xref=xa, yref=ya, showarrow=False,
                        xanchor="left", yanchor="middle", font=dict(family=FONT, size=17, color="#666")))
# counts panel round labels (R4 sits behind the legend box in the original, so it is drawn faint)
for rs, lab in zip(ROUND_STARTS, ROUND_LABELS):
    col = "rgba(102,102,102,0.22)" if lab == "R4" else "#666"
    ann.append(dict(text=lab, x=rs + 2.2, y=26.6, xref="x3", yref="y3", showarrow=False,
                    xanchor="left", yanchor="middle", font=dict(family=FONT, size=17, color=col)))
ann.append(dict(text="Prob", x=px_x(27), y=px_y(285), xref="paper", yref="paper", showarrow=False,
                textangle=-90, xanchor="center", yanchor="middle", font=dict(family=FONT, size=14, color="#000")))
ann.append(dict(text="Prob", x=px_x(27), y=px_y(812), xref="paper", yref="paper", showarrow=False,
                textangle=-90, xanchor="center", yanchor="middle", font=dict(family=FONT, size=14, color="#000")))
ann.append(dict(text="Count", x=px_x(40), y=px_y(1264), xref="paper", yref="paper", showarrow=False,
                textangle=-90, xanchor="center", yanchor="middle", font=dict(family=FONT, size=14, color="#000")))
ann.append(dict(text="Fight time (seconds)", x=0.5, y=px_y(1464), xref="paper", yref="paper",
                showarrow=False, xanchor="center", yanchor="middle",
                font=dict(family=FONT, size=20, color="#000")))
fig.update_layout(annotations=ann)

fig.write_html("out.html")
